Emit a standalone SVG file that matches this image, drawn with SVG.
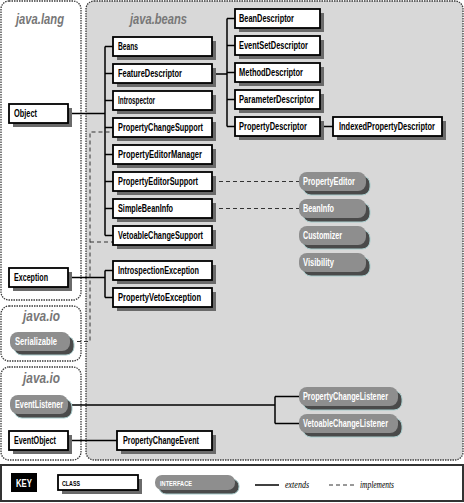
<svg xmlns="http://www.w3.org/2000/svg" width="464" height="503" viewBox="0 0 464 503">
<style>
.panel{fill:#fff;stroke:#3a3a3a;stroke-width:1.3;stroke-dasharray:1.5 1}
.beans{fill:#d8d8d8}
.title{font-family:"Liberation Sans Narrow","Liberation Sans",sans-serif;font-weight:bold;font-style:italic;font-size:15px;fill:#777}
.cls{fill:#fff;stroke:#000;stroke-width:1.8}
.csh{fill:#6a6a6a}
.ifc{fill:#8e8e8e}
.ish{fill:#4a4a4a;stroke:#a8cccc;stroke-width:1}
.t{font-family:"Liberation Sans Narrow","Liberation Sans",sans-serif;font-weight:bold;font-size:11px;fill:#000}
.ti{font-family:"Liberation Sans Narrow","Liberation Sans",sans-serif;font-weight:bold;font-size:11px;fill:#fff}
.ln{fill:none;stroke:#000;stroke-width:1.5}
.ds{fill:none;stroke:#333;stroke-width:1;stroke-dasharray:4 3}
.it{font-family:"Liberation Serif",serif;font-style:italic;font-size:11px;fill:#000}
</style>

<!-- panels -->
<g id="panels">
<rect class="panel" x="1" y="1" width="80" height="299" rx="8"/>
<rect class="panel" x="1" y="306" width="80" height="55" rx="8"/>
<rect class="panel" x="1" y="367" width="80" height="93" rx="8"/>
<rect class="panel beans" x="86" y="1" width="377" height="459" rx="8"/>
<text class="title" x="16" y="24" textLength="48" lengthAdjust="spacingAndGlyphs">java.lang</text>
<text class="title" x="130" y="24" textLength="57" lengthAdjust="spacingAndGlyphs">java.beans</text>
<text class="title" x="23" y="321" textLength="37" lengthAdjust="spacingAndGlyphs">java.io</text>
<text class="title" x="23" y="383" textLength="37" lengthAdjust="spacingAndGlyphs">java.io</text>
</g>

<!-- connectors -->
<g id="connectors">
<path class="ln" d="M68 113.5H105M105 46.5V235.5M105 46.5H113M105 73.5H113M105 100.5H113M105 127.5H113M105 154.5H113M105 181.5H113M105 208.5H113M105 235.5H113"/>
<path class="ln" d="M68 277.5H105M105 270.5V297.5M105 270.5H113M105 297.5H113"/>
<path class="ln" d="M212 74H227M227 18.5V126.5M227 18.5H235M227 45.5H235M227 72.5H235M227 99.5H235M227 126.5H235"/>
<path class="ln" d="M320 126.5H333"/>
<path class="ln" d="M68 405H275M275 396.5V423.5M275 396.5H299M275 423.5H299"/>
<path class="ln" d="M68 440.5H117"/>
<path class="ds" d="M212 181.5H299M212 208.5H299"/>
<path class="ds" d="M70 341.5H90V132H113M90 242H113"/>
</g>

<!-- java.lang -->
<g id="Object"><rect class="csh" x="13" y="108" width="59" height="19"/><rect class="cls" x="9" y="104" width="59" height="19"/><text class="t" x="14" y="117" textLength="23" lengthAdjust="spacingAndGlyphs">Object</text></g>
<g id="Exception"><rect class="csh" x="13" y="272" width="59" height="19"/><rect class="cls" x="9" y="268" width="59" height="19"/><text class="t" x="14" y="281" textLength="34" lengthAdjust="spacingAndGlyphs">Exception</text></g>
<g id="Serializable"><rect class="ish" x="14" y="336" width="60" height="19" rx="8"/><rect class="ifc" x="10" y="332" width="60" height="19" rx="8"/><text class="ti" x="15" y="345" textLength="42" lengthAdjust="spacingAndGlyphs">Serializable</text></g>
<g id="EventListener"><rect class="ish" x="14" y="399" width="58" height="19" rx="8"/><rect class="ifc" x="10" y="395" width="58" height="19" rx="8"/><text class="ti" x="15" y="408" textLength="48" lengthAdjust="spacingAndGlyphs">EventListener</text></g>
<g id="EventObject"><rect class="csh" x="13" y="435" width="59" height="19"/><rect class="cls" x="9" y="431" width="59" height="19"/><text class="t" x="14" y="444" textLength="42" lengthAdjust="spacingAndGlyphs">EventObject</text></g>

<!-- java.beans column 1 -->
<g id="Beans"><rect class="csh" x="117" y="41" width="99" height="19"/><rect class="cls" x="113" y="37" width="99" height="19"/><text class="t" x="118" y="50" textLength="20" lengthAdjust="spacingAndGlyphs">Beans</text></g>
<g id="FeatureDescriptor"><rect class="csh" x="117" y="68" width="99" height="19"/><rect class="cls" x="113" y="64" width="99" height="19"/><text class="t" x="118" y="77" textLength="64" lengthAdjust="spacingAndGlyphs">FeatureDescriptor</text></g>
<g id="Introspector"><rect class="csh" x="117" y="95" width="99" height="19"/><rect class="cls" x="113" y="91" width="99" height="19"/><text class="t" x="118" y="104" textLength="37" lengthAdjust="spacingAndGlyphs">Introspector</text></g>
<g id="PropertyChangeSupport"><rect class="csh" x="117" y="122" width="99" height="19"/><rect class="cls" x="113" y="118" width="99" height="19"/><text class="t" x="118" y="131" textLength="85" lengthAdjust="spacingAndGlyphs">PropertyChangeSupport</text></g>
<g id="PropertyEditorManager"><rect class="csh" x="117" y="149" width="99" height="19"/><rect class="cls" x="113" y="145" width="99" height="19"/><text class="t" x="118" y="158" textLength="84" lengthAdjust="spacingAndGlyphs">PropertyEditorManager</text></g>
<g id="PropertyEditorSupport"><rect class="csh" x="117" y="176" width="99" height="19"/><rect class="cls" x="113" y="172" width="99" height="19"/><text class="t" x="118" y="185" textLength="80" lengthAdjust="spacingAndGlyphs">PropertyEditorSupport</text></g>
<g id="SimpleBeanInfo"><rect class="csh" x="117" y="203" width="99" height="19"/><rect class="cls" x="113" y="199" width="99" height="19"/><text class="t" x="118" y="212" textLength="55" lengthAdjust="spacingAndGlyphs">SimpleBeanInfo</text></g>
<g id="VetoableChangeSupport"><rect class="csh" x="117" y="230" width="99" height="19"/><rect class="cls" x="113" y="226" width="99" height="19"/><text class="t" x="118" y="239" textLength="85" lengthAdjust="spacingAndGlyphs">VetoableChangeSupport</text></g>
<g id="IntrospectionException"><rect class="csh" x="117" y="265" width="99" height="19"/><rect class="cls" x="113" y="261" width="99" height="19"/><text class="t" x="118" y="274" textLength="81" lengthAdjust="spacingAndGlyphs">IntrospectionException</text></g>
<g id="PropertyVetoException"><rect class="csh" x="117" y="292" width="99" height="19"/><rect class="cls" x="113" y="288" width="99" height="19"/><text class="t" x="118" y="301" textLength="83" lengthAdjust="spacingAndGlyphs">PropertyVetoException</text></g>

<!-- java.beans column 2 -->
<g id="BeanDescriptor"><rect class="csh" x="239" y="13" width="85" height="19"/><rect class="cls" x="235" y="9" width="85" height="19"/><text class="t" x="239" y="22" textLength="55" lengthAdjust="spacingAndGlyphs">BeanDescriptor</text></g>
<g id="EventSetDescriptor"><rect class="csh" x="239" y="40" width="85" height="19"/><rect class="cls" x="235" y="36" width="85" height="19"/><text class="t" x="239" y="49" textLength="69" lengthAdjust="spacingAndGlyphs">EventSetDescriptor</text></g>
<g id="MethodDescriptor"><rect class="csh" x="239" y="67" width="85" height="19"/><rect class="cls" x="235" y="63" width="85" height="19"/><text class="t" x="239" y="76" textLength="64" lengthAdjust="spacingAndGlyphs">MethodDescriptor</text></g>
<g id="ParameterDescriptor"><rect class="csh" x="239" y="94" width="85" height="19"/><rect class="cls" x="235" y="90" width="85" height="19"/><text class="t" x="239" y="103" textLength="75" lengthAdjust="spacingAndGlyphs">ParameterDescriptor</text></g>
<g id="PropertyDescriptor"><rect class="csh" x="239" y="121" width="85" height="19"/><rect class="cls" x="235" y="117" width="85" height="19"/><text class="t" x="239" y="130" textLength="68" lengthAdjust="spacingAndGlyphs">PropertyDescriptor</text></g>
<g id="IndexedPropertyDescriptor"><rect class="csh" x="337" y="121" width="109" height="19"/><rect class="cls" x="333" y="117" width="109" height="19"/><text class="t" transform="translate(339 130) scale(0.7 1)" x="0" y="0" textLength="137" lengthAdjust="spacingAndGlyphs">IndexedPropertyDescriptor</text></g>

<!-- interfaces -->
<g id="PropertyEditor"><rect class="ish" x="303" y="176" width="67" height="19" rx="8"/><rect class="ifc" x="299" y="172" width="67" height="19" rx="8"/><text class="ti" x="303" y="185" textLength="52" lengthAdjust="spacingAndGlyphs">PropertyEditor</text></g>
<g id="BeanInfo"><rect class="ish" x="303" y="203" width="67" height="19" rx="8"/><rect class="ifc" x="299" y="199" width="67" height="19" rx="8"/><text class="ti" x="303" y="212" textLength="31" lengthAdjust="spacingAndGlyphs">BeanInfo</text></g>
<g id="Customizer"><rect class="ish" x="303" y="230" width="67" height="19" rx="8"/><rect class="ifc" x="299" y="226" width="67" height="19" rx="8"/><text class="ti" x="303" y="239" textLength="39" lengthAdjust="spacingAndGlyphs">Customizer</text></g>
<g id="Visibility"><rect class="ish" x="303" y="257" width="67" height="19" rx="8"/><rect class="ifc" x="299" y="253" width="67" height="19" rx="8"/><text class="ti" x="303" y="266" textLength="31" lengthAdjust="spacingAndGlyphs">Visibility</text></g>
<g id="PropertyChangeListener"><rect class="ish" x="303" y="391" width="99" height="19" rx="8"/><rect class="ifc" x="299" y="387" width="99" height="19" rx="8"/><text class="ti" x="303" y="400" textLength="85" lengthAdjust="spacingAndGlyphs">PropertyChangeListener</text></g>
<g id="VetoableChangeListener"><rect class="ish" x="303" y="418" width="99" height="19" rx="8"/><rect class="ifc" x="299" y="414" width="99" height="19" rx="8"/><text class="ti" x="303" y="427" textLength="85" lengthAdjust="spacingAndGlyphs">VetoableChangeListener</text></g>
<g id="PropertyChangeEvent"><rect class="csh" x="121" y="435" width="95" height="19"/><rect class="cls" x="117" y="431" width="95" height="19"/><text class="t" x="123" y="444" textLength="76" lengthAdjust="spacingAndGlyphs">PropertyChangeEvent</text></g>

<!-- key -->
<g id="key">
<rect x="1" y="465" width="462" height="36" fill="#fff" stroke="#333" stroke-width="2"/>
<rect x="11" y="473" width="26" height="19" fill="#000"/>
<text x="16" y="487" font-family="Liberation Sans Narrow,Liberation Sans,sans-serif" font-weight="bold" font-size="11" fill="#fff" textLength="16" lengthAdjust="spacingAndGlyphs">KEY</text>
<rect class="csh" x="62" y="479" width="80" height="15"/>
<rect class="cls" x="58" y="475" width="80" height="15"/>
<text x="62" y="486" font-family="Liberation Sans Narrow,Liberation Sans,sans-serif" font-weight="bold" font-size="8" fill="#000" textLength="18" lengthAdjust="spacingAndGlyphs">CLASS</text>
<rect class="ish" x="159" y="479" width="80" height="15" rx="7"/>
<rect class="ifc" x="155" y="475" width="80" height="15" rx="7"/>
<text x="160" y="486" font-family="Liberation Sans Narrow,Liberation Sans,sans-serif" font-weight="bold" font-size="8" fill="#fff" textLength="32" lengthAdjust="spacingAndGlyphs">INTERFACE</text>
<path class="ln" d="M255 485H279"/>
<text class="it" x="285" y="488" textLength="24" lengthAdjust="spacingAndGlyphs">extends</text>
<path class="ds" d="M329 485H356" stroke="#000"/>
<text class="it" x="360" y="488" textLength="34" lengthAdjust="spacingAndGlyphs">implements</text>
</g>
</svg>
